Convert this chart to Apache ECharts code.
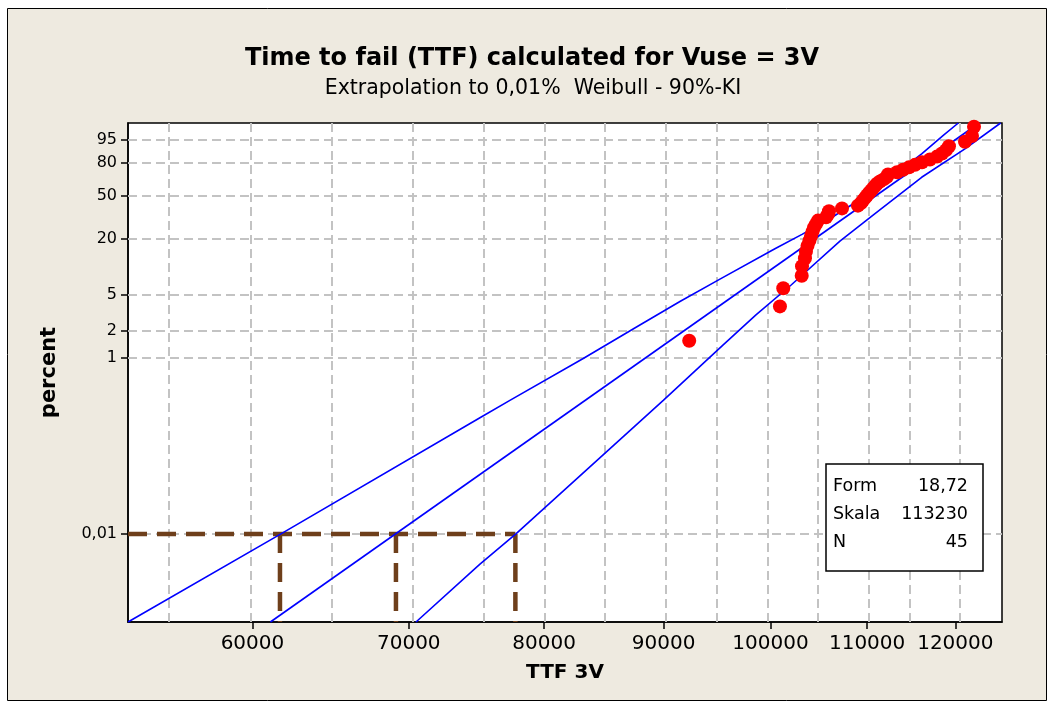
<!DOCTYPE html>
<html><head><meta charset="utf-8">
<script src="https://cdn.jsdelivr.net/npm/echarts@6/dist/echarts.min.js"></script>
<style>html,body{margin:0;padding:0;background:#fff}#c{width:1054px;height:709px}</style>
</head><body><div id="c"></div>
<script>
// ---------- data ----------
const titleText = 'Time to fail (TTF) calculated for Vuse = 3V';
const subtitleText = 'Extrapolation to 0,01%  Weibull - 90%-KI';
const xAxisName = 'TTF 3V';
const yAxisName = 'percent';

const xRange = [53070, 125650];          // TTF axis limits (log scale)
const yRange = [0.001, 99];              // percent axis limits (Weibull scale)
const xTicks = [60000, 70000, 80000, 90000, 100000, 110000, 120000];
const xGridValues = [55000, 60000, 65000, 70000, 75000, 80000, 85000, 90000, 95000, 100000, 105000, 110000, 115000, 120000];
const yTicks = [95, 80, 50, 20, 5, 2, 1, 0.01];
const yTickLabels = ['95', '80', '50', '20', '5', '2', '1', '0,01'];

// failure times (TTF) and plotting positions (percent)
const ttf = [92300, 100940, 101270, 103130, 103160, 103460, 103560, 103720, 103920, 104080,
  104230, 104380, 104590, 104800, 105630, 105840, 105940, 107310, 109010, 109340,
  109550, 109770, 109980, 110200, 110420, 110640, 110860, 111070, 111400, 111840,
  112180, 112290, 113290, 113960, 114640, 115320, 116120, 117030, 117850, 118430,
  118900, 119250, 121150, 121990, 122230];
const pct = [1.542, 3.744, 5.947, 8.150, 10.352, 12.555, 14.758, 16.960, 19.163, 21.366,
  23.568, 25.771, 27.974, 30.176, 32.379, 34.581, 36.784, 38.987, 41.189, 43.392,
  45.595, 47.797, 50.000, 52.203, 54.405, 56.608, 58.811, 61.013, 63.216, 65.419,
  67.621, 69.824, 72.026, 74.229, 76.432, 78.634, 80.837, 83.040, 85.242, 87.445,
  89.648, 91.850, 94.053, 96.256, 98.458];

// fitted Weibull line
const fitTTF = [61070, 122850];
const fitPct = [0.001, 99];
// 90% confidence band, left curve
const lowTTF = [53070, 61710, 75090, 77340, 83140, 87660, 91460, 95140, 100440, 103160, 105940, 109880, 113400, 116080, 118580, 120350];
const lowPct = [0.001, 0.01, 0.2075, 0.327, 0.974, 2.22, 4.24, 7.5, 15.8, 22.2, 31.1, 49.7, 72.0, 87.2, 96.4, 99];
// 90% confidence band, right curve
const upTTF = [70500, 75090, 77800, 89970, 95420, 98580, 102090, 107090, 110860, 116080, 121140, 125480];
const upPct = [0.001, 0.00453, 0.01, 0.327, 1.38, 3.01, 6.5, 18.95, 35.1, 67.2, 90.4, 99];

// 0,01 % reference lines
const refPct = 0.01;
const refTTF = [61650, 69120, 77760];

// legend box
const boxLabels = ['Form', 'Skala', 'N'];
const boxValues = ['18,72', '113230', '45'];

// ---------- scale transforms (log time / Weibull probability) ----------
const tx = v => Math.log(v);
const ty = p => Math.log(-Math.log(1 - p / 100));
const pairs = (xs, ps) => xs.map((v, i) => [tx(v), ty(ps[i])]);
const nearestIdx = (arr, f, val) => {
  let b = 0;
  arr.forEach((a, i) => { if (Math.abs(f(a) - val) < Math.abs(f(arr[b]) - val)) b = i; });
  return b;
};

const FONT = '"DejaVu Sans", Verdana, sans-serif';
const BLUE = '#0000ff';
const BROWN = '#6e3f1b';

const chart = echarts.init(document.getElementById('c'), null, { renderer: 'canvas' });

const series = [];
// grid lines
series.push({
  type: 'line', data: [], z: 1, silent: true,
  markLine: {
    z: 1, silent: true, symbol: ['none', 'none'], label: { show: false }, animation: false,
    lineStyle: { color: '#c3c3c3', type: [9, 5], width: 2 },
    emphasis: { disabled: true },
    data: [...xGridValues.map(v => ({ xAxis: tx(v) })), ...yTicks.map(p => ({ yAxis: ty(p) }))]
  }
});
// brown reference lines
series.push({
  type: 'line', z: 6, symbol: 'none', silent: true,
  lineStyle: { color: BROWN, width: 4.5, type: [19, 10] },
  data: [[tx(xRange[0]), ty(refPct)], [tx(refTTF[refTTF.length - 1]), ty(refPct)]]
});
refTTF.forEach(v => series.push({
  type: 'line', z: 6, symbol: 'none', silent: true,
  lineStyle: { color: BROWN, width: 4.5, type: [19, 10] },
  data: [[tx(v), ty(refPct)], [tx(v), ty(yRange[0])]]
}));
// blue lines
[[fitTTF, fitPct], [lowTTF, lowPct], [upTTF, upPct]].forEach(([xs, ps]) => series.push({
  type: 'line', z: 7, symbol: 'none', silent: true,
  lineStyle: { color: BLUE, width: 1.6 },
  data: pairs(xs, ps)
}));
// data points
series.push({
  type: 'scatter', z: 8, symbol: 'circle', symbolSize: 14,
  itemStyle: { color: '#ff0000', opacity: 1 },
  data: pairs(ttf, pct)
});

const graphic = [
  { type: 'rect', z: -10, silent: true, shape: { x: 7.5, y: 8.5, width: 1039, height: 692 },
    style: { fill: '#eeeae0', stroke: '#000', lineWidth: 1 } },
  { type: 'text', x: 532, y: 59, silent: true,
    style: { text: titleText, font: 'bold 24px ' + FONT, fill: '#000', textAlign: 'center', textVerticalAlign: 'middle' } },
  { type: 'text', x: 533, y: 89, silent: true,
    style: { text: subtitleText, font: '20.5px ' + FONT, fill: '#000', textAlign: 'center', textVerticalAlign: 'middle' } },
  { type: 'rect', z: 100, silent: true, shape: { x: 826, y: 464, width: 157, height: 107 },
    style: { fill: '#fff', stroke: '#000', lineWidth: 1.5 } }
];
boxLabels.forEach((t, i) => {
  graphic.push({ type: 'text', z: 101, x: 833, y: 486 + i * 28, silent: true,
    style: { text: t, font: '17.5px ' + FONT, fill: '#000', textAlign: 'left', textVerticalAlign: 'middle' } });
  graphic.push({ type: 'text', z: 101, x: 968, y: 486 + i * 28, silent: true,
    style: { text: boxValues[i], font: '17.5px ' + FONT, fill: '#000', textAlign: 'right', textVerticalAlign: 'middle' } });
});

chart.setOption({
  animation: false,
  backgroundColor: '#ffffff',
  grid: { left: 128, top: 123, right: 52, bottom: 87, show: true, backgroundColor: '#ffffff',
    borderColor: '#000', borderWidth: 1.5, containLabel: false, outerBoundsMode: 'none' },
  xAxis: {
    type: 'value', min: tx(xRange[0]), max: tx(xRange[1]),
    splitLine: { show: false },
    axisLine: { onZero: false, lineStyle: { color: '#000', width: 1.5 } },
    axisTick: { customValues: xTicks.map(tx), length: 7, lineStyle: { color: '#000', width: 1.5 } },
    axisLabel: { customValues: xTicks.map(tx), margin: 12, fontSize: 20, fontFamily: FONT, color: '#000',
      formatter: v => String(xTicks[nearestIdx(xTicks, tx, v)]) },
    name: xAxisName, nameLocation: 'middle', nameGap: 41,
    nameTextStyle: { fontWeight: 'bold', fontSize: 20, fontFamily: FONT, color: '#000' }
  },
  yAxis: {
    type: 'value', min: ty(yRange[0]), max: ty(yRange[1]),
    splitLine: { show: false },
    axisLine: { onZero: false, lineStyle: { color: '#000', width: 1.5 } },
    axisTick: { customValues: yTicks.map(ty), length: 7, lineStyle: { color: '#000', width: 1.5 } },
    axisLabel: { customValues: yTicks.map(ty), margin: 11, fontSize: 16, fontFamily: FONT, color: '#000',
      formatter: v => yTickLabels[nearestIdx(yTicks, ty, v)] },
    name: yAxisName, nameLocation: 'middle', nameGap: 68, nameRotate: 90,
    nameTextStyle: { fontWeight: 'bold', fontSize: 21, fontFamily: FONT, color: '#000' }
  },
  graphic: graphic,
  series: series
});
</script></body></html>
